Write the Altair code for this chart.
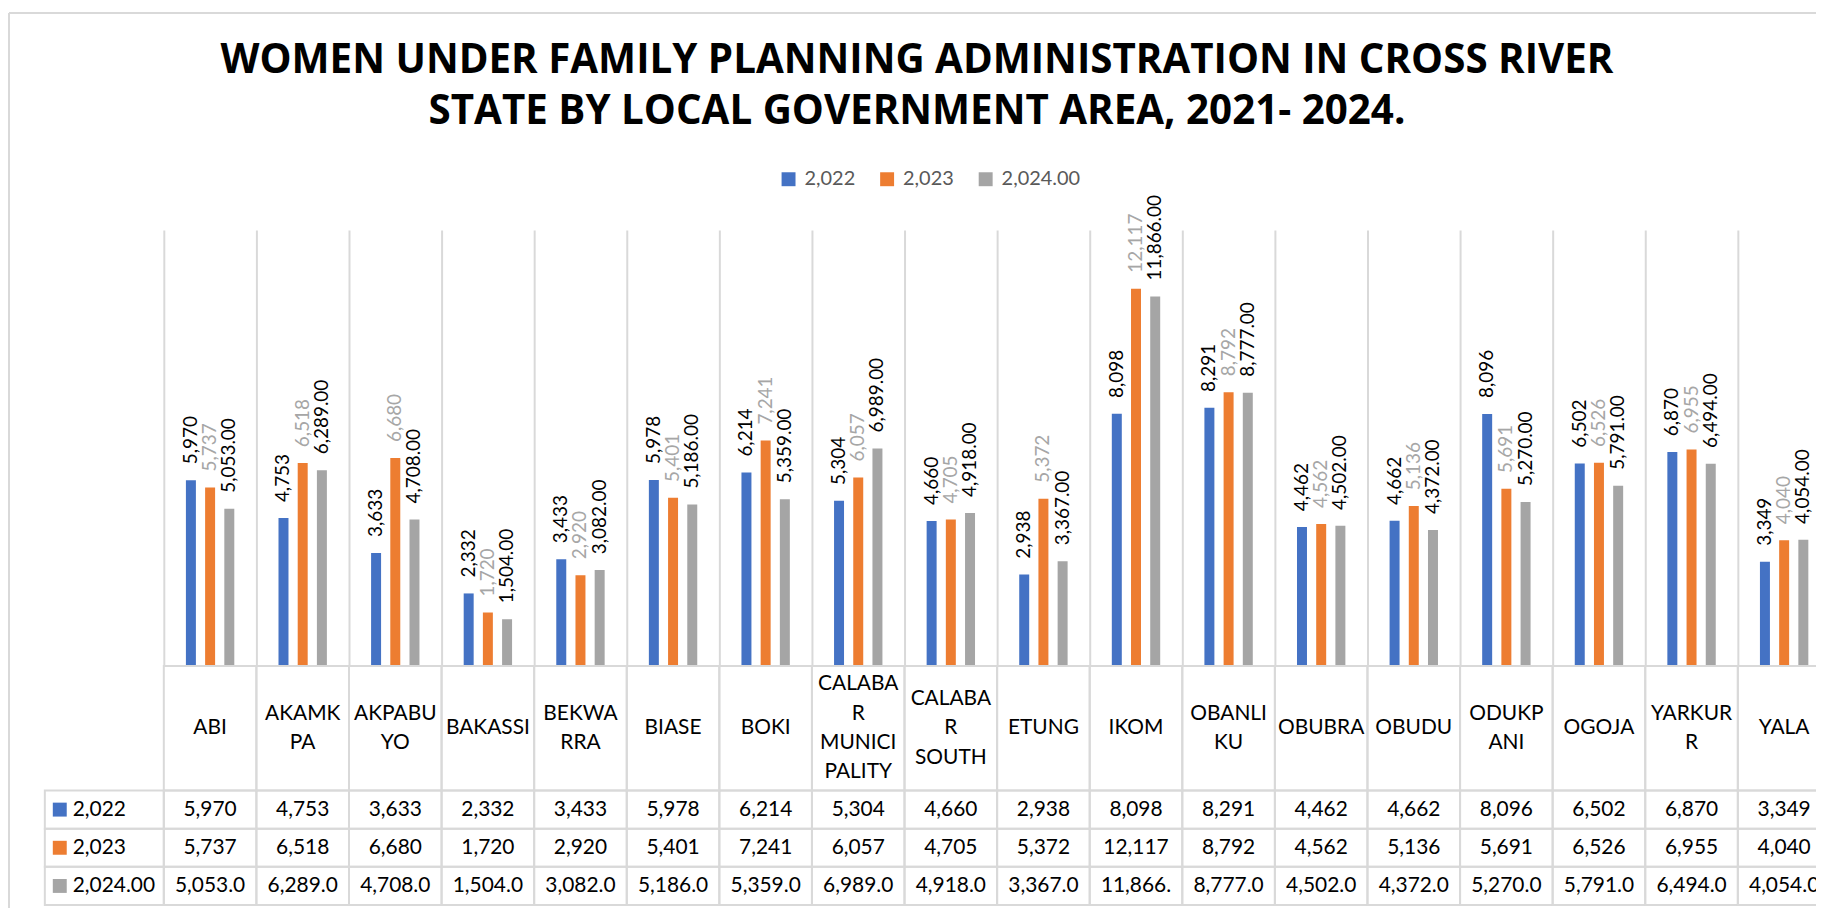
import altair as alt
import pandas as pd

# ---------------- data ----------------
lgas = ["ABI", "AKAMKPA", "AKPABUYO", "BAKASSI", "BEKWARRA", "BIASE", "BOKI",
        "CALABAR MUNICIPALITY", "CALABAR SOUTH", "ETUNG", "IKOM", "OBANLIKU",
        "OBUBRA", "OBUDU", "ODUKPANI", "OGOJA", "YARKURR", "YALA"]
header_lines = [["ABI"], ["AKAMK", "PA"], ["AKPABU", "YO"], ["BAKASSI"], ["BEKWA", "RRA"],
                ["BIASE"], ["BOKI"], ["CALABA", "R", "MUNICI", "PALITY"], ["CALABA", "R", "SOUTH"],
                ["ETUNG"], ["IKOM"], ["OBANLI", "KU"], ["OBUBRA"], ["OBUDU"], ["ODUKP", "ANI"],
                ["OGOJA"], ["YARKUR", "R"], ["YALA"]]
series = ["2,022", "2,023", "2,024.00"]
v2022 = [5970, 4753, 3633, 2332, 3433, 5978, 6214, 5304, 4660, 2938, 8098, 8291, 4462, 4662, 8096, 6502, 6870, 3349]
v2023 = [5737, 6518, 6680, 1720, 2920, 5401, 7241, 6057, 4705, 5372, 12117, 8792, 4562, 5136, 5691, 6526, 6955, 4040]
v2024 = [5053, 6289, 4708, 1504, 3082, 5186, 5359, 6989, 4918, 3367, 11866, 8777, 4502, 4372, 5270, 5791, 6494, 4054]
title_lines = ["WOMEN UNDER FAMILY PLANNING ADMINISTRATION IN CROSS RIVER",
               "STATE BY LOCAL GOVERNMENT AREA, 2021- 2024."]

# ---------------- styles ----------------
colors = ["#4472C4", "#ED7D31", "#A5A5A5"]
label_colors = ["#000000", "#A6A6A6", "#000000"]
label_fmts = ["{:,.0f}", "{:,.0f}", "{:,.2f}"]
table_fmts = ["{:,.0f}", "{:,.0f}", "{:,.1f}"]
GRID = "#D9D9D9"
FONT = "Lato"

rows = []
for s, vals, lf, tf, lc, hx in zip(series, [v2022, v2023, v2024], label_fmts, table_fmts, label_colors, colors):
    for name, v in zip(lgas, vals):
        rows.append({"lga": name, "series": s, "value": v, "label": lf.format(v),
                     "tlabel": tf.format(v), "lcolor": lc, "hex": hx})
df = pd.DataFrame(rows)

hdr = pd.DataFrame({"lga": lgas, "hrow": ["h"] * len(lgas)})
hl = []
for name, lines in zip(lgas, header_lines):
    for i, line in enumerate(lines):
        hl.append({"lga": name, "line": line, "slot": i - (len(lines) - 1) / 2})
hdr_lines = pd.DataFrame(hl)

left = pd.DataFrame({"series": series, "hex": colors})
one = pd.DataFrame({"k": [0]})

W_STEP = 93
PLOT_H = 438
HDR_H = 125
ROWS_H = 115
LINE_H = 29.5
HDR_MID = PLOT_H + HDR_H / 2

xscale = alt.Scale(domain=lgas, range=[0, W_STEP * len(lgas)], paddingInner=0, paddingOuter=0)
xaxis = alt.Axis(grid=True, bandPosition=0, gridColor=GRID, gridWidth=2, domain=False,
                 ticks=False, labels=False, title=None)
X = alt.X("lga:N", scale=xscale, axis=xaxis)
XO = alt.XOffset("series:N", scale=alt.Scale(domain=series, range=[22.2, 70.8], paddingInner=0.48, paddingOuter=0))
yv_scale = alt.Scale(domain=[0, 14000], nice=False)
YV = alt.Y("value:Q", scale=yv_scale, axis=None)
YH = alt.Y("hrow:N", scale=alt.Scale(domain=["h"], range=[PLOT_H, PLOT_H + HDR_H], paddingInner=0, paddingOuter=0), axis=None)
YL = alt.Y("slot:Q", scale=alt.Scale(domain=[-2, 2], range=[HDR_MID - 2 * LINE_H, HDR_MID + 2 * LINE_H], nice=False, zero=False), axis=None)
YR = alt.Y("series:N", scale=alt.Scale(domain=series, range=[PLOT_H + HDR_H, PLOT_H + HDR_H + ROWS_H], paddingInner=0, paddingOuter=0), axis=None)

bars = alt.Chart(df).mark_bar().encode(
    x=X, xOffset=XO, y=YV,
    color=alt.Color("series:N", scale=alt.Scale(domain=series, range=colors),
                    legend=alt.Legend(orient="none", legendX=617.5, legendY=-61, direction="horizontal",
                                      title=None, symbolType="square", symbolSize=196, symbolStrokeWidth=0,
                                      labelFont=FONT, labelFontSize=20, labelColor="#595959",
                                      labelOffset=6, columnPadding=22, padding=0)),
)

labels = alt.Chart(df).mark_text(angle=270, align="left", baseline="middle", dx=16,
                                 font=FONT, fontSize=19).encode(
    x=X, xOffset=XO, y=YV, text="label:N", color=alt.Color("lcolor:N", scale=None),
)

baseline = alt.Chart(one).mark_rule(color=GRID, strokeWidth=2).encode(
    y=alt.YDatum(0, scale=yv_scale, axis=None)
)

hdr_cells = alt.Chart(hdr).mark_rect(fillOpacity=0, stroke=GRID, strokeWidth=2).encode(x=X, y=YH)
hdr_text = alt.Chart(hdr_lines).mark_text(baseline="middle", font=FONT, fontSize=21,
                                          color="#000000").encode(x=X, y=YL, text="line:N")

cells = alt.Chart(df).mark_rect(fillOpacity=0, stroke=GRID, strokeWidth=2).encode(x=X, y=YR)
cell_text = alt.Chart(df).mark_text(baseline="middle", font=FONT, fontSize=21, color="#000000",
                                    limit=80, ellipsis="\u200b").encode(x=X, y=YR, text="tlabel:N")

left_cells = alt.Chart(left).mark_rect(fillOpacity=0, stroke=GRID, strokeWidth=2).encode(
    x=alt.value(-119.5), x2=alt.value(0), y=YR)
left_text = alt.Chart(left).mark_text(align="left", baseline="middle", font=FONT, fontSize=21,
                                      color="#000000").encode(x=alt.value(-91.5), y=YR, text="series:N")
left_sq = alt.Chart(left).mark_point(shape="square", filled=True, size=196, opacity=1).encode(
    x=alt.value(-104.5), y=YR, color=alt.Color("hex:N", scale=None))

title = alt.Chart(one).mark_text(text=title_lines, align="center", baseline="alphabetic", lineHeight=52,
                                 font="Open Sans", fontSize=40.5, fontWeight="bold", color="#000000").encode(
    x=alt.value(756.5), y=alt.value(-158))

border_left = alt.Chart(one).mark_rule(color=GRID, strokeWidth=2).encode(
    x=alt.value(-155.5), y=alt.value(-218), y2=alt.value(720))
border_top = alt.Chart(one).mark_rule(color=GRID, strokeWidth=2).encode(
    x=alt.value(-155.5), x2=alt.value(1700), y=alt.value(-218))

chart = alt.layer(
    border_left, border_top, bars, labels, hdr_cells, hdr_text, cells, cell_text,
    left_cells, left_text, left_sq, baseline, title
).resolve_scale(y="independent", color="independent").properties(
    width=1659.5, height=PLOT_H,
    autosize=alt.AutoSizeParams(type="none"),
    padding={"left": 156.5, "top": 221, "right": 0, "bottom": 241},
    background="white",
).configure_view(stroke=None)

chart.save("out.html", embed_options={"renderer": "svg", "actions": False})
